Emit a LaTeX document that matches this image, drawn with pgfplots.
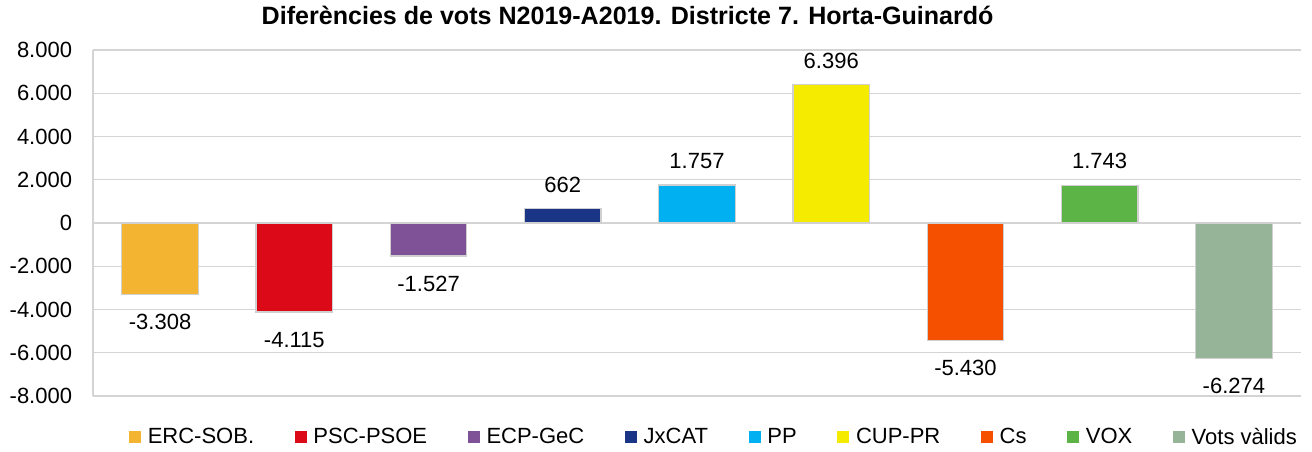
\documentclass[border=0pt]{standalone}
\usepackage{pgfplots}
\pgfplotsset{compat=1.18}
\usepackage{fontspec}
\setmainfont{Liberation Sans}
\newcommand\fs{\fontsize{16.5}{20}\selectfont}
\newcommand\tfs{\fontsize{18.8}{22}\selectfont}
\definecolor{cERC}{HTML}{F3B531}
\definecolor{cPSC}{HTML}{DC0A18}
\definecolor{cECP}{HTML}{7F5196}
\definecolor{cJX}{HTML}{1B3586}
\definecolor{cPP}{HTML}{00B0F0}
\definecolor{cCUP}{HTML}{F5EB00}
\definecolor{cCS}{HTML}{F55000}
\definecolor{cVOX}{HTML}{5DB446}
\definecolor{cVV}{HTML}{96B497}
\definecolor{gridc}{HTML}{D4D4D4}
\definecolor{barline}{HTML}{D0D0D0}
\begin{document}
\begin{tikzpicture}
\begin{axis}[
  scale only axis,
  width=906pt, height=259.5pt,
  ybar, bar width=0.57, bar shift=0pt,
  xmin=-0.5, xmax=8.5,
  ymin=-8000, ymax=8000,
  ytick={-8000,-6000,-4000,-2000,0,2000,4000,6000,8000},
  axis x line=none,
  axis y line*=left,
  y axis line style={gridc, line width=0.9pt},
  ymajorgrids,
  major grid style={gridc, line width=0.9pt},
  major tick length=0pt,
  /pgf/number format/1000 sep={.},
  /pgf/number format/assume math mode=true,
  yticklabel style={font=\fs, anchor=east, inner sep=0pt, xshift=-15.5pt},
  title={Diferències de vots N2019-A2019. Districte 7. Horta-Guinardó},
  title style={font=\tfs\bfseries, at={(0.5,1)}, anchor=base, inner sep=0pt, yshift=13.5pt, xshift=-52pt},
  nodes near coords={\pgfmathprintnumber[1000 sep={.},assume math mode=true]{\pgfplotspointmeta}},
  nodes near coords align={vertical},
  every node near coord/.append style={font=\fs, text=black, inner sep=0pt, text height=26pt, text depth=12pt},
  legend columns=9,
  legend style={draw=none, font=\fs, at={(0.5,0)}, anchor=center, yshift=-30.75pt, xshift=13pt,
    /tikz/every odd column/.append style={column sep=3pt},
    /tikz/every even column/.append style={column sep=28.5pt}},
  legend image code/.code={\fill[#1,draw=none] (0pt,-4.5pt) rectangle (9pt,4.5pt);},
  every axis plot/.append style={draw=barline, line width=0.9pt},
]
\addplot[fill=cERC] coordinates {(0,-3308)};
\addplot[fill=cPSC] coordinates {(1,-4115)};
\addplot[fill=cECP] coordinates {(2,-1527)};
\addplot[fill=cJX] coordinates {(3,662)};
\addplot[fill=cPP] coordinates {(4,1757)};
\addplot[fill=cCUP] coordinates {(5,6396)};
\addplot[fill=cCS] coordinates {(6,-5430)};
\addplot[fill=cVOX] coordinates {(7,1743)};
\addplot[fill=cVV] coordinates {(8,-6274)};
\legend{ERC-SOB.,PSC-PSOE,ECP-GeC,JxCAT,PP,CUP-PR,Cs,VOX,Vots vàlids}
\coordinate (ll) at (rel axis cs:0,0);
\end{axis}
\path (ll) ++(-69.75pt,-41.25pt) rectangle ++(984pt,338.25pt);
\end{tikzpicture}
\end{document}
